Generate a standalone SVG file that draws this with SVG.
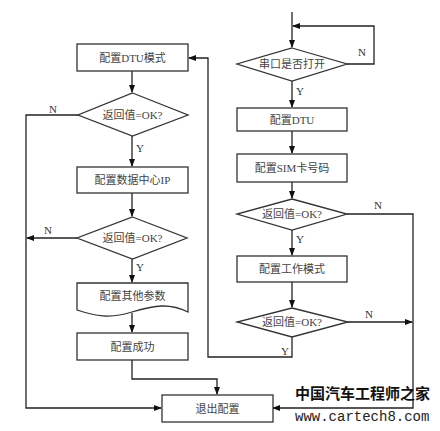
<svg xmlns="http://www.w3.org/2000/svg" width="440" height="431" viewBox="0 0 440 431">
<style>
.s{fill:#fff;stroke:#333;stroke-width:1.3}
.c{fill:none;stroke:#222;stroke-width:1.3}
.t{font-family:"Liberation Serif","Noto Sans CJK SC",serif;font-size:11px;fill:#444;text-anchor:middle;dominant-baseline:central}
.l{font-family:"Liberation Serif",serif;font-size:11px;fill:#333;text-anchor:middle;dominant-baseline:central}
</style>
<defs>
<marker id="a" markerWidth="8" markerHeight="6" refX="7" refY="3" orient="auto" markerUnits="userSpaceOnUse">
<path d="M0,0 L8,3 L0,6 Z" fill="#111"/>
</marker>
</defs>
<rect width="440" height="431" fill="#fff"/>
<g id="connectors">
<path class="c" d="M132,71 V92" marker-end="url(#a)"/>
<path class="c" d="M132,136 V166" marker-end="url(#a)"/>
<path class="c" d="M132,193 V216" marker-end="url(#a)"/>
<path class="c" d="M132,259 V282" marker-end="url(#a)"/>
<path class="c" d="M132,313 V332" marker-end="url(#a)"/>
<path class="c" d="M132,360 V379 H217 V394" marker-end="url(#a)"/>
<path class="c" d="M78,115 H26 V408 H161" marker-end="url(#a)"/>
<path class="c" d="M77,238 H27" marker-end="url(#a)"/>
<path class="c" d="M292,12 V47" marker-end="url(#a)"/>
<path class="c" d="M347,64 H374 V26 H293" marker-end="url(#a)"/>
<path class="c" d="M292,81 V107" marker-end="url(#a)"/>
<path class="c" d="M292,131 V153" marker-end="url(#a)"/>
<path class="c" d="M292,182 V198" marker-end="url(#a)"/>
<path class="c" d="M292,230 V255" marker-end="url(#a)"/>
<path class="c" d="M292,282 V307" marker-end="url(#a)"/>
<path class="c" d="M347,214 H413 V408 H273" marker-end="url(#a)"/>
<path class="c" d="M348,322 H412" marker-end="url(#a)"/>
<path class="c" d="M292,337 V357 H208 V58 H189" marker-end="url(#a)"/>
<text class="l" x="53" y="109">N</text>
<text class="l" x="140" y="148">Y</text>
<text class="l" x="48" y="230">N</text>
<text class="l" x="140" y="267">Y</text>
<text class="l" x="362" y="52">N</text>
<text class="l" x="300" y="91">Y</text>
<text class="l" x="378" y="205">N</text>
<text class="l" x="300" y="239">Y</text>
<text class="l" x="369" y="314">N</text>
<text class="l" x="285" y="351">Y</text>
</g>
<g id="n1"><rect class="s" x="77" y="44" width="111" height="27"/><text class="t" x="132.5" y="57.5">配置DTU模式</text></g>
<g id="n2"><polygon class="s" points="132.5,93 188,115 132.5,136 78,115"/><text class="t" x="132.5" y="115">返回值=OK?</text></g>
<g id="n3"><rect class="s" x="77" y="167" width="111" height="26"/><text class="t" x="132.5" y="180">配置数据中心IP</text></g>
<g id="n4"><polygon class="s" points="132.5,217 187,238 132.5,259 77,238"/><text class="t" x="132.5" y="238">返回值=OK?</text></g>
<g id="n5"><path class="s" d="M77,283 H188 V312 C170,303 155,305 132,312 C110,319 95,316 77,310 Z"/><text class="t" x="132.5" y="296">配置其他参数</text></g>
<g id="n6"><rect class="s" x="77" y="333" width="111" height="27"/><text class="t" x="132.5" y="346.5">配置成功</text></g>
<g id="n7"><rect class="s" x="162" y="395" width="111" height="27"/><text class="t" x="217.5" y="408.5">退出配置</text></g>
<g id="n8"><polygon class="s" points="292,48 347,64 292,81 237,64"/><text class="t" x="292" y="64">串口是否打开</text></g>
<g id="n9"><rect class="s" x="237" y="108" width="110" height="23"/><text class="t" x="292" y="119.5">配置DTU</text></g>
<g id="n10"><rect class="s" x="237" y="154" width="110" height="28"/><text class="t" x="292" y="168">配置SIM卡号码</text></g>
<g id="n11"><polygon class="s" points="292,199 347,214 292,230 237,214"/><text class="t" x="292" y="214">返回值=OK?</text></g>
<g id="n12"><rect class="s" x="237" y="256" width="110" height="26"/><text class="t" x="292" y="269">配置工作模式</text></g>
<g id="n13"><polygon class="s" points="292,308 348,322 292,337 237,322"/><text class="t" x="292" y="322">返回值=OK?</text></g>
<g id="watermark">
<text x="295" y="399" font-family="'Noto Sans CJK SC',sans-serif" font-size="15" font-weight="bold" fill="#111">中国汽车工程师之家</text>
<text x="295" y="421" font-family="'Liberation Mono',monospace" font-size="14" fill="#222">www.cartech8.com</text>
</g>
</svg>
